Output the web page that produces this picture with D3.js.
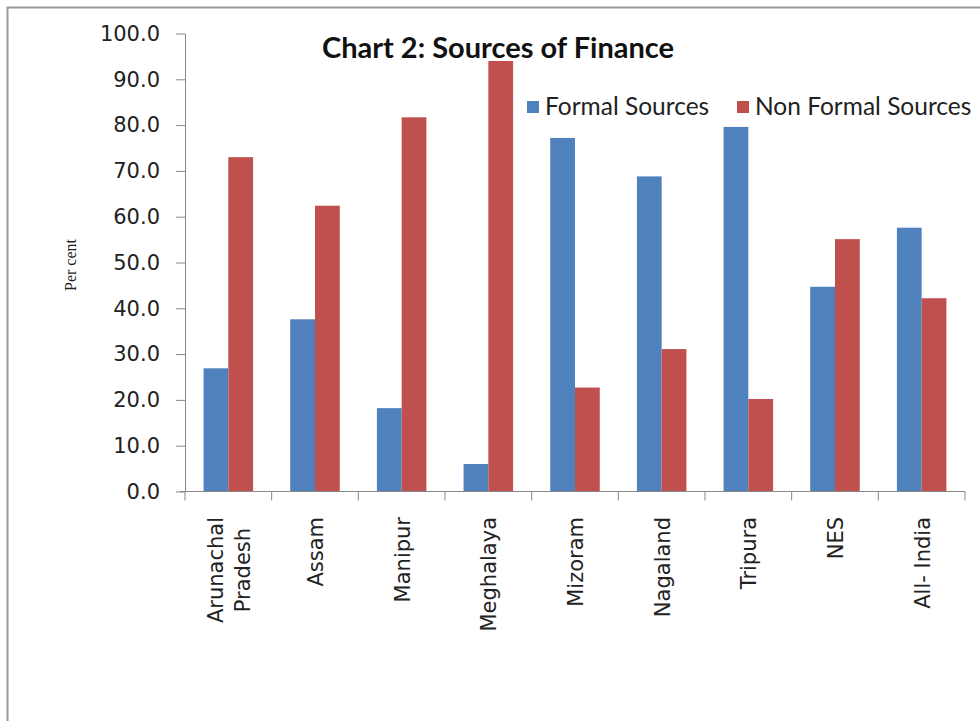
<!DOCTYPE html>
<html>
<head>
<meta charset="utf-8">
<script src="https://cdn.jsdelivr.net/npm/d3@7"></script>
<style>
  body { margin: 0; background: #fff; }
  svg { display: block; }
</style>
</head>
<body>
<div id="chart"></div>
<script>
var categories = ["Arunachal Pradesh", "Assam", "Manipur", "Meghalaya", "Mizoram",
	"Nagaland", "Tripura", "NES", "All- India"];
var seriesNames = ["Formal Sources", "Non Formal Sources"];
var formalValues = [26.9, 37.6, 18.2, 6.0, 77.2, 68.8, 79.6, 44.7, 57.6];
var nonFormalValues = [73.0, 62.4, 81.7, 94.0, 22.7, 31.1, 20.2, 55.1, 42.2];
var yTicks = [0, 10, 20, 30, 40, 50, 60, 70, 80, 90, 100];
var colors = ["#4f81bd", "#c0504d"];

var W = 980, H = 721;
var plotLeft = 185, plotRight = 965, plotTop = 33.5, plotBottom = 491.5;

var svg = d3.select("#chart").append("svg").attr("width", W).attr("height", H);

svg.append("rect").attr("width", W).attr("height", H).attr("fill", "#fff");

// outer frame (only top and left edges are visible)
svg.append("path").attr("d", "M7.5,721V7.5H980").attr("fill", "none")
		.attr("stroke", "#9a9a9a").attr("stroke-width", 2);

var x0 = d3.scaleBand().domain(categories).range([ plotLeft, plotRight ]);
var step = x0.step();
var x1 = d3.scaleBand().domain(seriesNames).range([ step * 0.75 / 3.5, step * 2.75 / 3.5 ]);
var y = d3.scaleLinear().domain([ 0, 100 ]).range([ plotBottom, plotTop ]);

var rows = categories.map(function(c, i) {
	return {cat: c, vals: [ formalValues[i], nonFormalValues[i] ]};
});

var groups = svg.selectAll("g.grp").data(rows).enter().append("g")
		.attr("class", "grp").attr("transform", function(d) {
			return "translate(" + x0(d.cat) + ",0)";
		});

groups.selectAll("rect").data(function(d) {
	return d.vals.map(function(v, j) {
		return {name: seriesNames[j], v: v, j: j};
	});
}).enter().append("rect")
	.attr("x", function(d) { return x1(d.name); })
	.attr("width", x1.bandwidth())
	.attr("y", function(d) { return y(d.v); })
	.attr("height", function(d) { return plotBottom - y(d.v); })
	.attr("fill", function(d) { return colors[d.j]; });

// y axis
var yAxis = svg.append("g").attr("transform", "translate(" + plotLeft + ",0)")
		.call(d3.axisLeft(y).tickValues(yTicks).tickSize(9).tickPadding(16)
				.tickFormat(d3.format(".1f")).tickSizeOuter(0));
yAxis.select(".domain").attr("stroke", "#888");
yAxis.selectAll(".tick line").attr("stroke", "#888");
yAxis.selectAll("text").attr("font-family", "DejaVu Sans").attr("font-size", 21)
		.attr("fill", "#222");

// x axis
var xAxis = svg.append("g");
xAxis.append("line").attr("x1", plotLeft - 5).attr("x2", plotRight).attr("y1", plotBottom)
		.attr("y2", plotBottom).attr("stroke", "#888");
xAxis.selectAll("line.tk").data(d3.range(categories.length + 1)).enter()
	.append("line").attr("class", "tk")
	.attr("x1", function(i) { return plotLeft + i * step; })
	.attr("x2", function(i) { return plotLeft + i * step; })
	.attr("y1", plotBottom).attr("y2", plotBottom + 9).attr("stroke", "#888");

// rotated category labels, lines centered on each other, block hugging the axis
var labelTop = 517, lineGap = 27;
categories.forEach(function(c) {
	var lines = c === "Arunachal Pradesh" ? [ "Arunachal", "Pradesh" ] : [ c ];
	var cx = x0(c) + step / 2;
	var g = xAxis.append("g");
	var texts = lines.map(function(t, k) {
		return g.append("text").text(t).attr("font-family", "DejaVu Sans")
				.attr("font-size", 21).attr("fill", "#222")
				.attr("text-anchor", "middle");
	});
	var maxLen = d3.max(texts, function(t) { return t.node().getComputedTextLength(); });
	var cy = labelTop + maxLen / 2;
	texts.forEach(function(t, k) {
		var off = (k - (lines.length - 1) / 2) * lineGap;
		var tx = cx + off + 8;
		t.attr("transform", "translate(" + tx + "," + cy + ") rotate(-90)");
	});
});

// y axis title
svg.append("text").text("Per cent").attr("font-family", "Liberation Serif")
	.attr("font-size", 16).attr("fill", "#222").attr("text-anchor", "middle")
	.attr("transform", "translate(76,265) rotate(-90)");

// title
svg.append("text").text("Chart 2: Sources of Finance").attr("x", 498).attr("y", 58)
	.attr("text-anchor", "middle").attr("font-family", "Lato")
	.attr("font-weight", "bold").attr("font-size", 29).attr("fill", "#111");

// legend
var legendX = [ 527, 737 ];
seriesNames.forEach(function(s, i) {
	svg.append("rect").attr("x", legendX[i]).attr("y", 101).attr("width", 12)
		.attr("height", 12).attr("fill", colors[i]);
	svg.append("text").text(s).attr("x", legendX[i] + 18).attr("y", 115)
		.attr("font-family", "Lato").attr("font-size", 24.5).attr("fill", "#222");
});
</script>
</body>
</html>
